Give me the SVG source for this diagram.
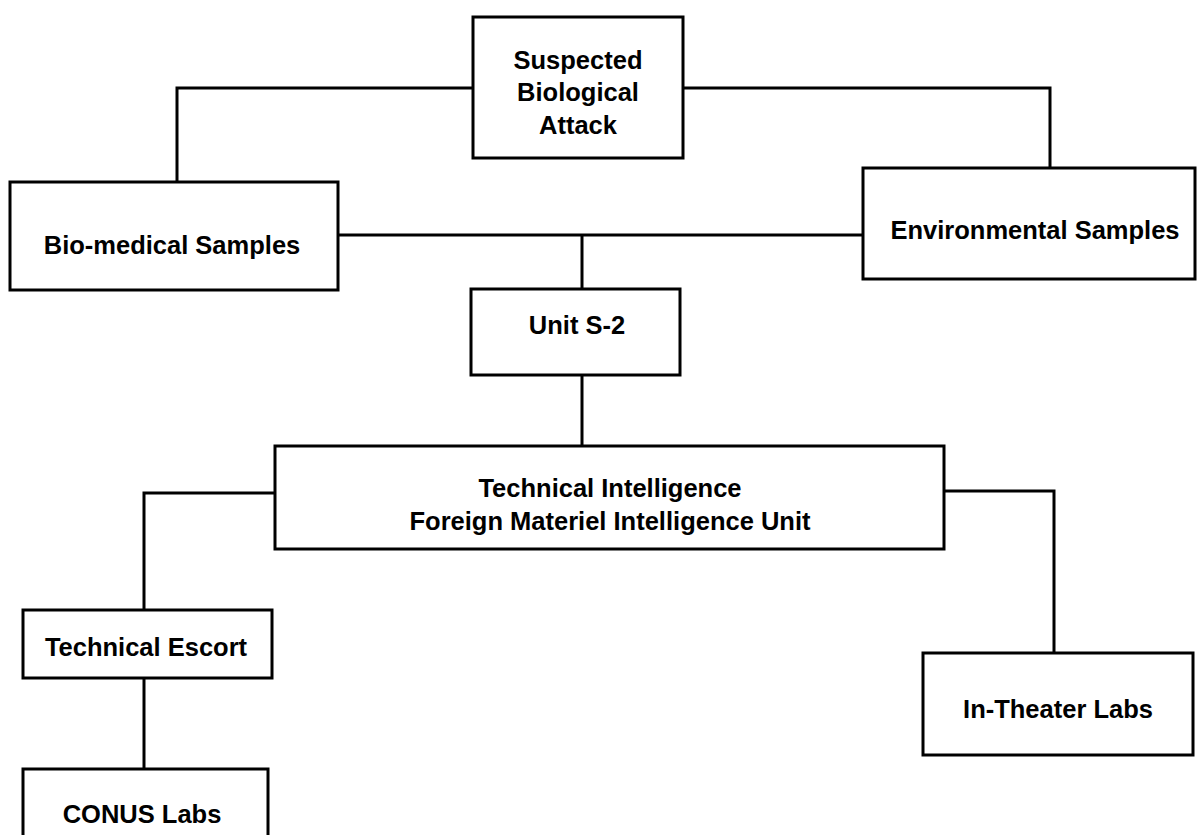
<svg xmlns="http://www.w3.org/2000/svg" width="1202" height="835" viewBox="0 0 1202 835">
<style>
.box{fill:#fff;stroke:#000;stroke-width:3}
.con{fill:none;stroke:#000;stroke-width:3;stroke-linejoin:miter}
text{font-family:"Liberation Sans",Arial,sans-serif;font-weight:bold;font-size:25.5px;fill:#000;text-anchor:middle}
</style>
<rect width="1202" height="835" fill="#fff"/>
<g id="connectors">
<polyline class="con" points="473,88 177,88 177,182"/>
<polyline class="con" points="683,88 1050,88 1050,168"/>
<line class="con" x1="338" y1="235" x2="863" y2="235"/>
<line class="con" x1="582" y1="235" x2="582" y2="289"/>
<line class="con" x1="582" y1="375" x2="582" y2="446"/>
<polyline class="con" points="275,493 144,493 144,610"/>
<line class="con" x1="144" y1="678" x2="144" y2="769"/>
<polyline class="con" points="944,491 1054,491 1054,653"/>
</g>
<g id="attack">
<rect class="box" x="473" y="17" width="210" height="141"/>
<text x="578" y="69">Suspected</text>
<text x="578" y="101">Biological</text>
<text x="578" y="134">Attack</text>
</g>
<g id="biomedical">
<rect class="box" x="10" y="182" width="328" height="108"/>
<text x="172" y="254">Bio-medical Samples</text>
</g>
<g id="environmental">
<rect class="box" x="863" y="168" width="332" height="111"/>
<text x="1035" y="239">Environmental Samples</text>
</g>
<g id="unit-s2">
<rect class="box" x="471" y="289" width="209" height="86"/>
<text x="577" y="334">Unit S-2</text>
</g>
<g id="tech-intel">
<rect class="box" x="275" y="446" width="669" height="103"/>
<text x="610" y="497">Technical Intelligence</text>
<text x="610" y="530">Foreign Materiel Intelligence Unit</text>
</g>
<g id="tech-escort">
<rect class="box" x="23" y="610" width="249" height="68"/>
<text x="146" y="656">Technical Escort</text>
</g>
<g id="conus">
<rect class="box" x="23" y="769" width="245" height="80"/>
<text x="142" y="823">CONUS Labs</text>
</g>
<g id="in-theater">
<rect class="box" x="923" y="653" width="270" height="102"/>
<text x="1058" y="718">In-Theater Labs</text>
</g>
</svg>
